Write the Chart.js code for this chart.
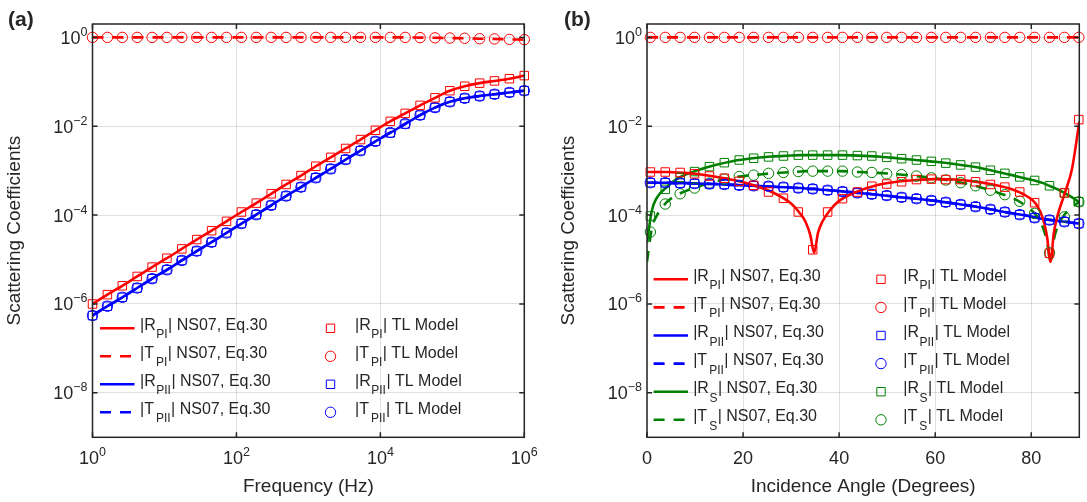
<!DOCTYPE html>
<html>
<head>
<meta charset="utf-8">
<script src="https://cdn.jsdelivr.net/npm/chart.js@4.4.1/dist/chart.umd.min.js"></script>
<style>
  html, body { margin: 0; padding: 0; background: #fff; }
  #wrap { position: relative; width: 1087px; height: 502px; }
  canvas { position: absolute; top: 0; }
</style>
</head>
<body>
<div id="wrap">
  <canvas id="chartA" width="540" height="502" style="left:0"></canvas>
  <canvas id="chartB" width="547" height="502" style="left:540px"></canvas>
</div>
<script>
// ---- panel (a): frequency sweep, all values are log10 ----
const freqExp = [0, 0.207, 0.414, 0.621, 0.828, 1.034, 1.241, 1.448, 1.655, 1.862,
  2.069, 2.276, 2.483, 2.69, 2.897, 3.103, 3.31, 3.517, 3.724, 3.931,
  4.138, 4.345, 4.552, 4.759, 4.966, 5.172, 5.379, 5.586, 5.793, 6];
const aRpi = [-6.00, -5.79, -5.59, -5.38, -5.17, -4.97, -4.76, -4.55, -4.35, -4.14,
  -3.93, -3.73, -3.52, -3.31, -3.11, -2.90, -2.70, -2.50, -2.30, -2.09,
  -1.89, -1.71, -1.53, -1.36, -1.20, -1.10, -1.03, -0.98, -0.93, -0.86];
const aTpi = [0, 0, 0, 0, 0, 0, 0, 0, 0, 0, 0, 0, 0, 0, 0, 0, 0, 0, 0, 0,
  0, 0, -0.005, -0.01, -0.015, -0.02, -0.03, -0.035, -0.045, -0.05];
const aRpii = [-6.26, -6.05, -5.85, -5.64, -5.43, -5.23, -5.02, -4.81, -4.61, -4.40,
  -4.19, -3.99, -3.78, -3.57, -3.37, -3.16, -2.96, -2.75, -2.55, -2.34,
  -2.15, -1.95, -1.75, -1.58, -1.45, -1.37, -1.32, -1.28, -1.24, -1.20];
const aTpii = [-6.26, -6.05, -5.85, -5.64, -5.43, -5.23, -5.02, -4.81, -4.61, -4.40,
  -4.19, -3.99, -3.78, -3.57, -3.37, -3.16, -2.96, -2.75, -2.55, -2.34,
  -2.14, -1.94, -1.75, -1.58, -1.45, -1.37, -1.32, -1.28, -1.24, -1.20];

// ---- panel (b): incidence angle sweep ----
const markerAngles = [0.7, 3.8, 6.9, 9.9, 13.0, 16.1, 19.2, 22.2, 25.3, 28.4,
  31.5, 34.5, 37.6, 40.7, 43.8, 46.8, 49.9, 53.0, 56.1, 59.2,
  62.2, 65.3, 68.4, 71.5, 74.5, 77.6, 80.7, 83.8, 86.9, 89.9];
const lineAngles = [0, 1, 2, 4, 6, 8, 10, 14, 18, 22, 26, 30, 32, 33, 34, 34.8, 35.6, 36.5, 38, 40,
  44, 48, 52, 56, 60, 64, 68, 72, 76, 79, 81, 82.5, 83.3, 84, 84.7, 85.5, 87, 88.5, 90];

const bRpiLine = [-3.03, -3.03, -3.03, -3.03, -3.04, -3.05, -3.07, -3.13, -3.21, -3.32, -3.48, -3.74,
  -3.98, -4.15, -4.45, -4.85, -4.40, -4.15, -3.90, -3.68, -3.46, -3.32, -3.25, -3.21, -3.19, -3.20,
  -3.24, -3.31, -3.42, -3.57, -3.75, -4.10, -4.50, -5.05, -4.40, -4.00, -3.50, -2.95, -1.90];
const bRpiTL = [-3.03, -3.03, -3.04, -3.07, -3.12, -3.17, -3.24, -3.33, -3.48, -3.62,
  -3.93, -4.78, -3.93, -3.63, -3.48, -3.35, -3.30, -3.25, -3.20, -3.19,
  -3.20, -3.20, -3.25, -3.31, -3.37, -3.48, -3.72, -4.86, -3.50, -1.85];
const bTpiLine = [0, 0, 0, 0, 0, 0, 0, 0, 0, 0, 0, 0, 0, 0, 0, 0, 0, 0, 0, 0,
  0, 0, 0, 0, 0, 0, 0, 0, 0, 0, 0, 0, 0, 0, 0, 0, 0, 0, 0];
const bTpiTL = [0, 0, 0, 0, 0, 0, 0, 0, 0, 0, 0, 0, 0, 0, 0, 0, 0, 0, 0, 0,
  0, 0, 0, 0, 0, 0, 0, 0, 0, 0];
const bRpiiLine = [-3.27, -3.27, -3.27, -3.27, -3.28, -3.28, -3.29, -3.30, -3.32, -3.34, -3.36, -3.38,
  -3.39, -3.40, -3.41, -3.41, -3.42, -3.43, -3.44, -3.46, -3.50, -3.54, -3.59, -3.63, -3.68, -3.74,
  -3.80, -3.88, -3.96, -4.01, -4.06, -4.09, -4.10, -4.11, -4.12, -4.13, -4.15, -4.17, -4.19];
const bRpiiTL = [-3.27, -3.27, -3.28, -3.29, -3.30, -3.31, -3.33, -3.34, -3.35, -3.37,
  -3.39, -3.41, -3.44, -3.47, -3.50, -3.53, -3.56, -3.60, -3.63, -3.67,
  -3.71, -3.76, -3.81, -3.87, -3.93, -3.99, -4.06, -4.11, -4.15, -4.19];
const bTpiiLine = [-3.27, -3.27, -3.27, -3.27, -3.28, -3.28, -3.29, -3.30, -3.32, -3.34, -3.36, -3.38,
  -3.39, -3.40, -3.41, -3.41, -3.42, -3.43, -3.44, -3.46, -3.50, -3.54, -3.59, -3.63, -3.68, -3.74,
  -3.80, -3.88, -3.96, -4.01, -4.06, -4.09, -4.10, -4.11, -4.12, -4.13, -4.15, -4.17, -4.19];
const bTpiiTL = [-3.27, -3.27, -3.28, -3.29, -3.30, -3.31, -3.33, -3.34, -3.35, -3.37,
  -3.39, -3.41, -3.44, -3.47, -3.50, -3.53, -3.56, -3.60, -3.63, -3.67,
  -3.71, -3.76, -3.81, -3.87, -3.93, -3.99, -4.06, -4.11, -4.15, -4.19];
const bRsLine = [-4.62, -3.90, -3.62, -3.38, -3.20, -3.09, -3.01, -2.88, -2.78, -2.72, -2.68, -2.66,
  -2.65, -2.65, -2.65, -2.65, -2.65, -2.65, -2.65, -2.65, -2.66, -2.68, -2.72, -2.76, -2.80, -2.85,
  -2.91, -3.00, -3.10, -3.18, -3.23, -3.28, -3.32, -3.35, -3.38, -3.42, -3.51, -3.60, -3.71];
const bRsTL = [-4.02, -3.42, -3.15, -3.02, -2.91, -2.82, -2.76, -2.72, -2.69, -2.67,
  -2.65, -2.65, -2.65, -2.65, -2.66, -2.67, -2.70, -2.73, -2.76, -2.79,
  -2.83, -2.87, -2.92, -2.99, -3.06, -3.14, -3.22, -3.34, -3.50, -3.70];
const bTsLine = [-5.05, -4.30, -4.02, -3.72, -3.56, -3.46, -3.38, -3.25, -3.15, -3.10, -3.06, -3.03,
  -3.02, -3.01, -3.01, -3.01, -3.01, -3.01, -3.01, -3.01, -3.03, -3.05, -3.08, -3.12, -3.17, -3.24,
  -3.33, -3.46, -3.61, -3.80, -4.00, -4.30, -4.60, -5.05, -4.55, -4.25, -3.98, -3.82, -3.70];
const bTsTL = [-4.38, -3.75, -3.52, -3.39, -3.28, -3.19, -3.13, -3.10, -3.06, -3.04,
  -3.02, -3.01, -3.01, -3.01, -3.03, -3.04, -3.07, -3.09, -3.12, -3.16,
  -3.21, -3.27, -3.34, -3.44, -3.54, -3.69, -3.96, -4.85, -4.04, -3.70];

const yTicks = [1e-8, 1e-6, 1e-4, 1e-2, 1];
const freqTicks = [1, 1e2, 1e4, 1e6];
const angleTicks = [0, 20, 40, 60, 80];

const RED = '#ff0000', BLUE = '#0000ff', GREEN = '#008000';
const INK = '#262626';
const FONT = '"Liberation Sans", Arial, Helvetica, sans-serif';

const legendA = [
  { v: 'R', sub: 'PI', color: RED, dash: false, mark: 'rect' },
  { v: 'T', sub: 'PI', color: RED, dash: true, mark: 'circle' },
  { v: 'R', sub: 'PII', color: BLUE, dash: false, mark: 'rect' },
  { v: 'T', sub: 'PII', color: BLUE, dash: true, mark: 'circle' }
];
const legendB = legendA.concat([
  { v: 'R', sub: 'S', color: GREEN, dash: false, mark: 'rect' },
  { v: 'T', sub: 'S', color: GREEN, dash: true, mark: 'circle' }
]);

const DASH = [11, 9];

function pts(xs, ys, xlog) {
  return xs.map((x, i) => ({ x: xlog ? Math.pow(10, x) : x, y: Math.pow(10, ys[i]) }));
}
function lineSet(xs, ys, color, dashed, xlog) {
  return {
    data: pts(xs, ys, xlog), showLine: true, borderColor: color, borderWidth: 2.6,
    borderDash: dashed ? DASH : [], pointRadius: 0, cubicInterpolationMode: 'monotone', order: 2
  };
}
function markSet(xs, ys, color, style, xlog) {
  return {
    data: pts(xs, ys, xlog), showLine: false, borderColor: color, backgroundColor: 'rgba(0,0,0,0)',
    pointStyle: style, pointRadius: style === 'rect' ? 6 : 5.2, pointBorderWidth: 1,
    pointBorderColor: color, pointBackgroundColor: 'rgba(0,0,0,0)', order: 1, clip: false
  };
}

function expLabel(v) {
  const e = Math.round(Math.log10(v));
  return { base: '10', sup: String(e).replace('-', '\u2212') };
}

// MATLAB-style box, inward ticks, tick labels, titles and the two-column legend
const matlabPlugin = {
  id: 'matlab',
  afterDraw(chart) {
    const o = chart.options.plugins.matlab;
    const { ctx, chartArea: a, scales } = chart;
    ctx.save();
    ctx.strokeStyle = INK;
    ctx.lineWidth = 1.5;
    ctx.strokeRect(a.left, a.top, a.right - a.left, a.bottom - a.top);
    ctx.beginPath();
    o.xTicks.forEach(v => {
      const px = scales.x.getPixelForValue(v);
      ctx.moveTo(px, a.bottom); ctx.lineTo(px, a.bottom - 5);
      ctx.moveTo(px, a.top); ctx.lineTo(px, a.top + 5);
    });
    o.yTicks.forEach(v => {
      const py = scales.y.getPixelForValue(v);
      ctx.moveTo(a.left, py); ctx.lineTo(a.left + 5, py);
      ctx.moveTo(a.right, py); ctx.lineTo(a.right - 5, py);
    });
    ctx.stroke();

    ctx.fillStyle = INK;
    ctx.textBaseline = 'alphabetic';
    const mainF = '18px ' + FONT, supF = '12.5px ' + FONT;
    // y tick labels
    o.yTicks.forEach(v => {
      const py = scales.y.getPixelForValue(v);
      const l = expLabel(v);
      ctx.font = supF; const ws = ctx.measureText(l.sup).width;
      ctx.font = mainF; const wb = ctx.measureText(l.base).width;
      const right = a.left - 5;
      ctx.textAlign = 'left';
      ctx.fillText(l.base, right - ws - wb, py + 6.5);
      ctx.font = supF;
      ctx.fillText(l.sup, right - ws, py - 1.5);
    });
    // x tick labels
    o.xTicks.forEach(v => {
      const px = scales.x.getPixelForValue(v);
      const by = a.bottom + 27;
      ctx.textAlign = 'left';
      if (o.xLog) {
        const l = expLabel(v);
        ctx.font = supF; const ws = ctx.measureText(l.sup).width;
        ctx.font = mainF; const wb = ctx.measureText(l.base).width;
        const x0 = px - (wb + ws) / 2;
        ctx.fillText(l.base, x0, by);
        ctx.font = supF;
        ctx.fillText(l.sup, x0 + wb, by - 8);
      } else {
        ctx.font = mainF;
        ctx.textAlign = 'center';
        ctx.fillText(String(v), px, by);
      }
    });
    // axis titles
    ctx.font = '19px ' + FONT;
    ctx.textAlign = 'center';
    ctx.fillText(o.xTitle, (a.left + a.right) / 2, a.bottom + 55);
    ctx.save();
    ctx.translate(a.left - 73, (a.top + a.bottom) / 2);
    ctx.rotate(-Math.PI / 2);
    ctx.fillText(o.yTitle, 0, 0);
    ctx.restore();
    // panel label
    ctx.font = 'bold 21px ' + FONT;
    ctx.textAlign = 'left';
    ctx.fillText(o.panel, o.panelX, 26);

    // legend
    const lg = o.legend;
    lg.items.forEach((it, i) => {
      const y = a.bottom - lg.firstFromBottom + i * lg.step;
      ctx.strokeStyle = it.color;
      ctx.lineWidth = 2.6;
      ctx.setLineDash(it.dash ? DASH : []);
      ctx.beginPath();
      ctx.moveTo(a.left + lg.lineX0, y); ctx.lineTo(a.left + lg.lineX1, y);
      ctx.stroke();
      ctx.setLineDash([]);
      ctx.lineWidth = 1;
      ctx.beginPath();
      const mx = a.left + lg.markX;
      if (it.mark === 'rect') ctx.rect(mx - 4.2, y - 4.2, 8.4, 8.4);
      else ctx.arc(mx, y, 5.2, 0, Math.PI * 2);
      ctx.stroke();
      ctx.fillStyle = INK;
      drawLabel(ctx, a.left + lg.textX, y, it, 'NS07, Eq.30');
      drawLabel(ctx, a.left + lg.text2X, y, it, 'TL Model');
    });
    ctx.restore();
  }
};

function drawLabel(ctx, x, y, it, tail) {
  const f = '16px ' + FONT, fs = '12px ' + FONT;
  ctx.textAlign = 'left';
  ctx.font = f;
  const head = '|' + it.v;
  ctx.fillText(head, x, y + 1.5);
  let cx = x + ctx.measureText(head).width + (it.v === 'T' ? 2 : 0.5);
  ctx.font = fs;
  ctx.fillText(it.sub, cx, y + 10);
  cx += ctx.measureText(it.sub).width + 0.5;
  ctx.font = f;
  ctx.fillText('| ' + tail, cx, y + 1.5);
}

function makeScales(xType, xMin, xMax, xTicksArr, yAxisWidth) {
  const grid = { color: 'rgba(38,38,38,0.14)', lineWidth: 1, drawTicks: false };
  return {
    x: {
      type: xType, min: xMin, max: xMax,
      ticks: { display: false }, grid: grid, border: { display: false },
      afterBuildTicks: s => { s.ticks = xTicksArr.map(v => ({ value: v })); },
      afterFit: s => { s.height = 64.7; }
    },
    y: {
      type: 'logarithmic', min: 1e-9, max: 2,
      ticks: { display: false }, grid: grid, border: { display: false },
      afterBuildTicks: s => { s.ticks = yTicks.map(v => ({ value: v })); },
      afterFit: s => { s.width = yAxisWidth; }
    }
  };
}

const common = {
  responsive: false, animation: false, events: [], devicePixelRatio: 1
};

new Chart(document.getElementById('chartA'), {
  type: 'scatter',
  data: {
    datasets: [
      markSet(freqExp, aRpi, RED, 'rect', true),
      markSet(freqExp, aTpi, RED, 'circle', true),
      markSet(freqExp, aRpii, BLUE, 'rect', true),
      markSet(freqExp, aTpii, BLUE, 'circle', true),
      lineSet(freqExp, aRpi, RED, false, true),
      lineSet(freqExp, aTpi, RED, true, true),
      lineSet(freqExp, aRpii, BLUE, false, true),
      lineSet(freqExp, aTpii, BLUE, true, true)
    ]
  },
  options: Object.assign({}, common, {
    layout: { padding: { left: 0, right: 15.7, top: 24, bottom: 0 } },
    scales: makeScales('logarithmic', 1, 1e6, freqTicks, 92.5),
    plugins: {
      legend: { display: false }, tooltip: { enabled: false },
      matlab: {
        xTicks: freqTicks, yTicks: yTicks, xLog: true,
        xTitle: 'Frequency (Hz)', yTitle: 'Scattering Coefficients',
        panel: '(a)', panelX: 8,
        legend: { items: legendA, firstFromBottom: 109, step: 28,
          lineX0: 7.5, lineX1: 42, textX: 47.5, markX: 238, text2X: 262.5 }
      }
    }
  }),
  plugins: [matlabPlugin]
});

new Chart(document.getElementById('chartB'), {
  type: 'scatter',
  data: {
    datasets: [
      markSet(markerAngles, bRpiTL, RED, 'rect', false),
      markSet(markerAngles, bTpiTL, RED, 'circle', false),
      markSet(markerAngles, bRpiiTL, BLUE, 'rect', false),
      markSet(markerAngles, bTpiiTL, BLUE, 'circle', false),
      markSet(markerAngles, bRsTL, GREEN, 'rect', false),
      markSet(markerAngles, bTsTL, GREEN, 'circle', false),
      lineSet(lineAngles, bRpiLine, RED, false, false),
      lineSet(lineAngles, bTpiLine, RED, true, false),
      lineSet(lineAngles, bRpiiLine, BLUE, false, false),
      lineSet(lineAngles, bTpiiLine, BLUE, true, false),
      lineSet(lineAngles, bRsLine, GREEN, false, false),
      lineSet(lineAngles, bTsLine, GREEN, true, false)
    ]
  },
  options: Object.assign({}, common, {
    layout: { padding: { left: 0, right: 7.7, top: 24, bottom: 0 } },
    scales: makeScales('linear', 0, 90, angleTicks, 107),
    plugins: {
      legend: { display: false }, tooltip: { enabled: false },
      matlab: {
        xTicks: angleTicks, yTicks: yTicks, xLog: false,
        xTitle: 'Incidence Angle (Degrees)', yTitle: 'Scattering Coefficients',
        panel: '(b)', panelX: 24,
        legend: { items: legendB, firstFromBottom: 158, step: 28.1,
          lineX0: 6.6, lineX1: 41, textX: 46.2, markX: 234, text2X: 256.3 }
      }
    }
  }),
  plugins: [matlabPlugin]
});
</script>
</body>
</html>
